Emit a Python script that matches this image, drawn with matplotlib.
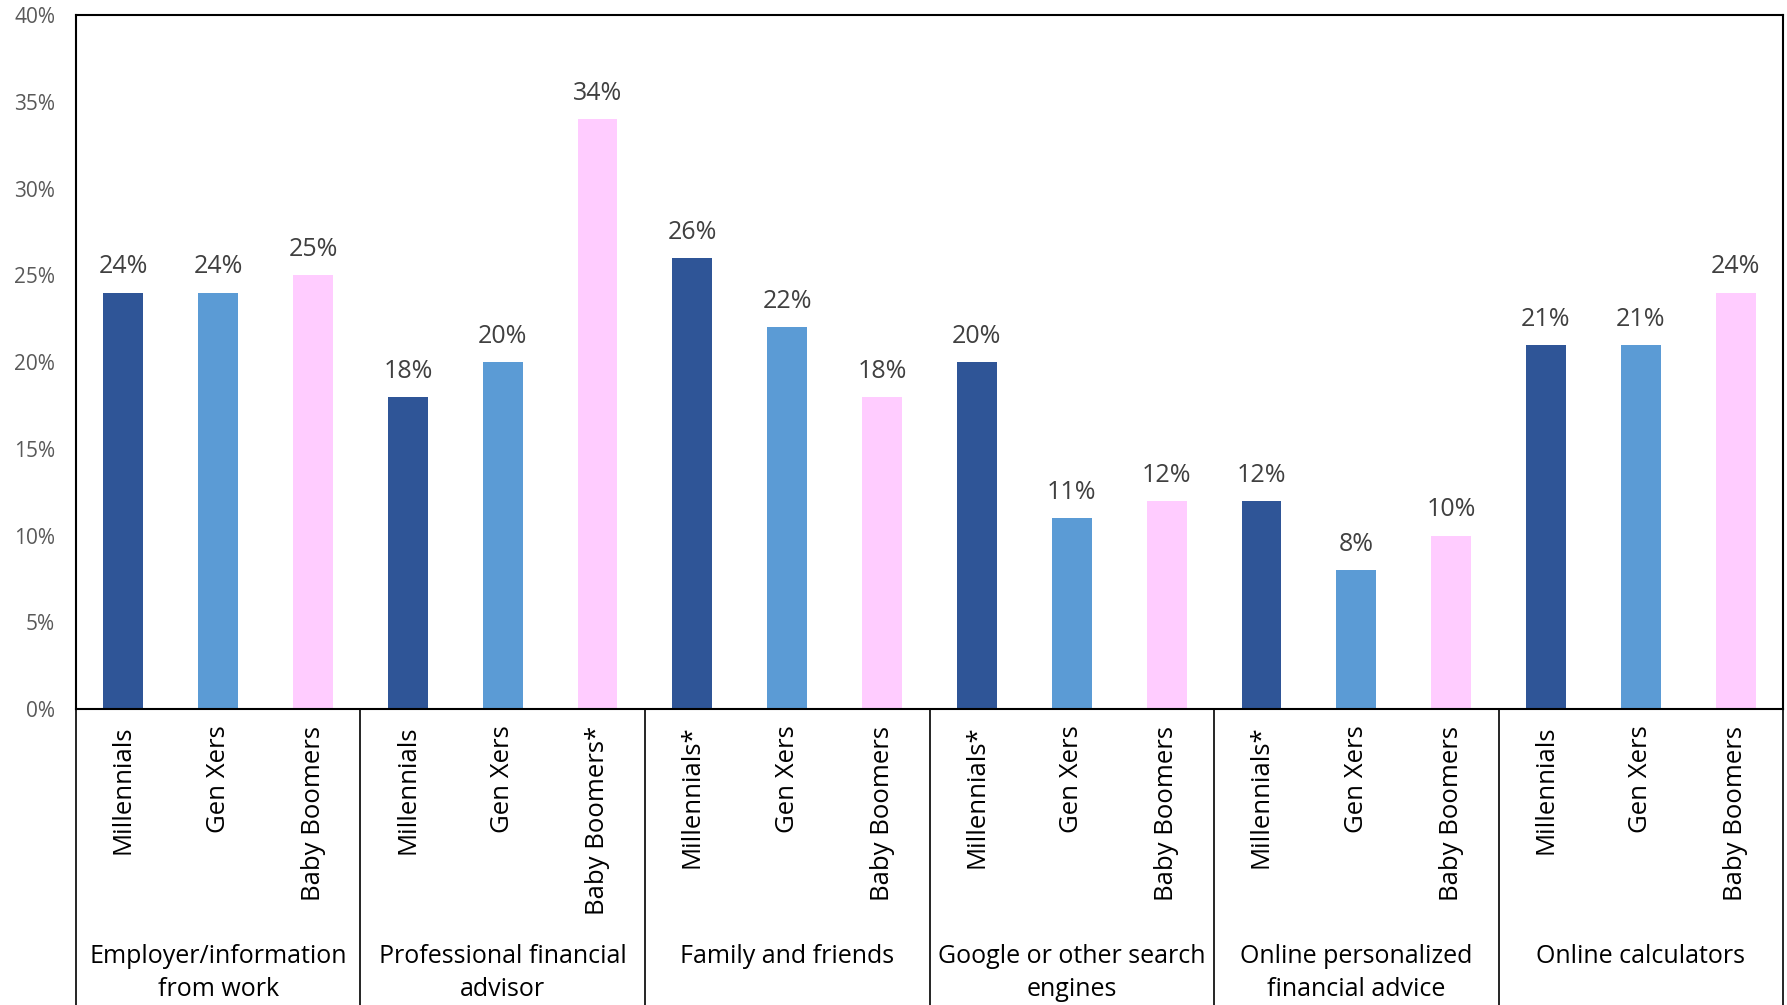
import numpy as np
import matplotlib
matplotlib.use('Agg')
import matplotlib.pyplot as plt
import matplotlib.transforms as mtrans

plt.rcParams['font.family'] = ['Open Sans', 'DejaVu Sans']

groups = ['Employer/information\nfrom work', 'Professional financial\nadvisor',
          'Family and friends', 'Google or other search\nengines',
          'Online personalized\nfinancial advice', 'Online calculators']
gens = [['Millennials', 'Gen Xers', 'Baby Boomers'],
        ['Millennials', 'Gen Xers', 'Baby Boomers*'],
        ['Millennials*', 'Gen Xers', 'Baby Boomers'],
        ['Millennials*', 'Gen Xers', 'Baby Boomers'],
        ['Millennials*', 'Gen Xers', 'Baby Boomers'],
        ['Millennials', 'Gen Xers', 'Baby Boomers']]
values = [[24, 24, 25],
          [18, 20, 34],
          [26, 22, 18],
          [20, 11, 12],
          [12, 8, 10],
          [21, 21, 24]]
colors = ['#2F5597', '#5B9BD5', '#FFCCFF']

fig = plt.figure(figsize=(17.87, 10.05), dpi=100)
ax = fig.add_axes([0.0425, 0.2945, 0.9553, 0.6905])

xs = []
labels = []
for g in range(len(groups)):
  for k in range(3):
    x = g * 3 + k
    v = values[g][k]
    ax.bar(x, v, width=0.42, color=colors[k], zorder=2)
    ax.annotate('%d%%' % v, (x, v), xytext=(0, 9.5), textcoords='offset points',
                ha='center', va='bottom', fontsize=18, color='#404040')
    xs.append(x)
    labels.append(gens[g][k])

n = len(xs)
ax.set_xlim(-0.5, n - 0.5)
ax.set_ylim(0, 40)
ax.set_yticks(range(0, 41, 5))
ax.set_yticklabels(['%d%%' % t for t in range(0, 41, 5)], fontsize=15, color='#595959')
ax.tick_params(axis='y', length=0, pad=15)
ax.set_xticks(xs)
ax.set_xticklabels(labels, rotation=90, fontsize=18.5, color='black')
ax.tick_params(axis='x', length=0, pad=12)
for s in ax.spines.values():
  s.set_linewidth(1.5)
  s.set_color('black')

trans = mtrans.blended_transform_factory(ax.transData, ax.transAxes)
for g in range(len(groups) + 1):
  xb = g * 3 - 0.5
  ax.plot([xb, xb], [0, -0.5], color='black', lw=1.2, transform=trans, clip_on=False)
for g in range(len(groups)):
  ax.text(g * 3 + 1, -0.338, groups[g], transform=trans, ha='center', va='top',
          fontsize=18, linespacing=1.45)

fig.savefig('out.png', dpi=100)
